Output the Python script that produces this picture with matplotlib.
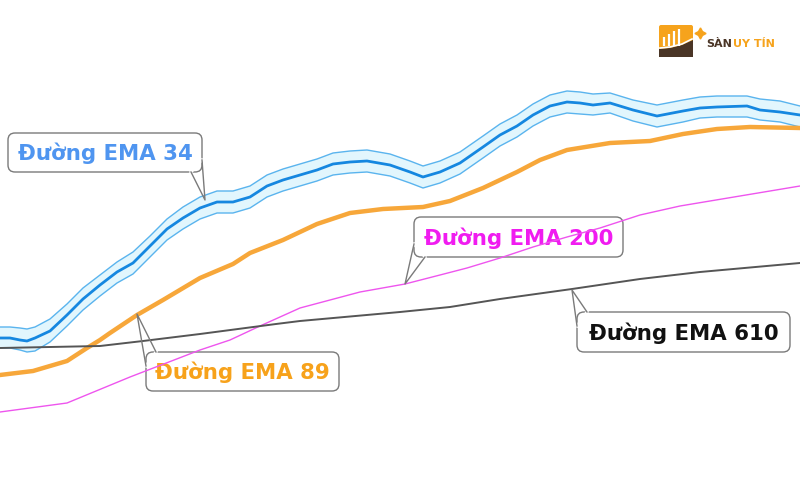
import matplotlib
matplotlib.use("Agg")
import matplotlib.pyplot as plt
from matplotlib.patches import FancyBboxPatch, Polygon

# ---------------- data (screen units) ----------------
ema34_x = [0, 10, 20, 27, 35, 50, 67, 83, 100, 117, 133, 150, 167, 183, 200, 217,
           233, 250, 267, 283, 300, 317, 333, 350, 367, 390, 410, 423, 440, 460,
           483, 500, 517, 533, 550, 567, 580, 593, 610, 633, 657, 683, 700, 717,
           747, 760, 780, 800]
ema34_mid = [338, 338, 340, 341, 338, 331, 315, 299, 285, 272, 263, 246, 229, 218,
             208, 202, 202, 197, 186, 180, 175, 170, 164, 162, 161, 165, 172, 177,
             172, 163, 147, 135, 126, 115, 106, 102, 103, 105, 103, 110, 116, 111,
             108, 107, 106, 110, 112, 115]
ema34_up = [327, 327, 328, 329, 327, 319, 304, 288, 275, 262, 252, 236, 219, 207,
            197, 191, 191, 186, 175, 169, 164, 159, 153, 151, 150, 154, 161, 166,
            161, 152, 136, 124, 115, 104, 95, 91, 92, 94, 93, 100, 105, 100,
            97, 96, 96, 99, 101, 106]
ema34_lo = [348, 348, 350, 352, 351, 342, 326, 310, 296, 283, 274, 257, 240, 229,
            219, 213, 213, 208, 197, 191, 186, 181, 175, 173, 172, 176, 183, 188,
            183, 174, 158, 146, 137, 126, 117, 113, 114, 115, 113, 121, 127, 122,
            118, 117, 117, 120, 122, 127]

ema89_x = [0, 33, 67, 87, 100, 110, 137, 163, 200, 233, 250, 283, 317, 350, 383,
           423, 450, 483, 517, 540, 567, 610, 650, 683, 717, 750, 800]
ema89_y = [375, 371, 361, 348, 340, 333, 315, 300, 278, 264, 253, 240, 224, 213,
           209, 207, 201, 188, 172, 160, 150, 143, 141, 134, 129, 127, 128]

ema200_x = [0, 67, 130, 200, 230, 260, 300, 360, 405, 440, 467, 500, 533, 567,
            600, 640, 680, 740, 800]
ema200_y = [412, 403, 377, 350, 340, 326, 308, 292, 284, 275, 268, 258, 247, 237,
            228, 215, 206, 196, 186]

ema610_x = [0, 100, 143, 200, 276, 300, 400, 450, 500, 572, 640, 700, 800]
ema610_y = [348, 346, 341, 334, 324, 321, 312, 307, 299, 289, 279, 272, 263]

labels = ["Đường EMA 34", "Đường EMA 89", "Đường EMA 200", "Đường EMA 610"]
label_colors = ["#4f95f0", "#f7a21b", "#f01cf0", "#111111"]

# ---------------- figure ----------------
fig = plt.figure(figsize=(8, 5), dpi=100)
ax = fig.add_axes([0, 0, 1, 1])
ax.set_xlim(0, 800)
ax.set_ylim(500, 0)
ax.axis("off")

# EMA 34 band
ax.fill_between(ema34_x, ema34_up, ema34_lo, color="#e2f6fd", lw=0, zorder=2)
ax.plot(ema34_x, ema34_up, color="#5ab4ee", lw=1.0, zorder=10)
ax.plot(ema34_x, ema34_lo, color="#5ab4ee", lw=1.0, zorder=10)
ax.plot(ema34_x, ema34_mid, color="#1587e0", lw=2.0, zorder=10)

ax.plot(ema89_x, ema89_y, color="#f7a73a", lw=3.2, zorder=10, solid_capstyle="round")
ax.plot(ema200_x, ema200_y, color="#ee55ee", lw=1.0, zorder=10)
ax.plot(ema610_x, ema610_y, color="#555555", lw=1.4, zorder=10)


def callout(x0, y0, x1, y1, tip, b1, b2, text, color):
    box = FancyBboxPatch((x0, y0), x1 - x0, y1 - y0,
                         boxstyle="round,pad=0,rounding_size=7",
                         fc="white", ec="#7a7a7a", lw=1.0, zorder=5)
    ax.add_patch(box)
    # erase the border between the wedge base points
    ax.plot([b1[0], b2[0]], [b1[1], b2[1]], color="white", lw=2.2, zorder=6)
    ax.plot([b1[0], tip[0], b2[0]], [b1[1], tip[1], b2[1]],
            color="#7a7a7a", lw=1.0, zorder=11)
    cx = (x0 + x1) / 2
    cy = (y0 + y1) / 2
    ax.text(cx, cy + 1, text, color=color, fontsize=15.3, fontweight="bold",
            family="DejaVu Sans", ha="center", va="center", zorder=8)


callout(8, 133, 202, 172, (205, 200), (191, 172), (202, 160), labels[0], label_colors[0])
callout(146, 352, 339, 391, (137, 314), (146, 366), (156, 352), labels[1], label_colors[1])
callout(414, 217, 623, 257, (405, 284), (414, 244), (425, 257), labels[2], label_colors[2])
callout(577, 312, 790, 352, (572, 290), (577, 326), (587, 312), labels[3], label_colors[3])

# ---------------- logo ----------------
logo = FancyBboxPatch((659, 25), 34, 32, boxstyle="round,pad=0,rounding_size=2",
                      fc="#f6a31c", ec="none", zorder=5)
ax.add_patch(logo)
ax.add_patch(Polygon([(659, 49), (670, 48), (682, 45), (693, 40), (693, 57), (659, 57)],
                     closed=True, fc="#4a3526", ec="none", zorder=6))
for bx, bt in [(664, 37), (669, 34), (674, 31), (679, 29)]:
    ax.plot([bx, bx], [bt, 46], color="white", lw=1.6, zorder=7, solid_capstyle="butt")
ax.plot([660, 670, 682, 692], [48, 47, 44, 39], color="white", lw=1.2, zorder=7)
ax.plot([700], [33], marker=(4, 1, 0), ms=8, color="#f6a31c", zorder=7)
ax.text(706, 44, "SÀN", color="#4a3526", fontsize=8, fontweight="bold",
        family="DejaVu Sans", ha="left", va="center")
ax.text(733, 44, "UY TÍN", color="#f6a31c", fontsize=8, fontweight="bold",
        family="DejaVu Sans", ha="left", va="center")

fig.savefig("out.png", dpi=100)
